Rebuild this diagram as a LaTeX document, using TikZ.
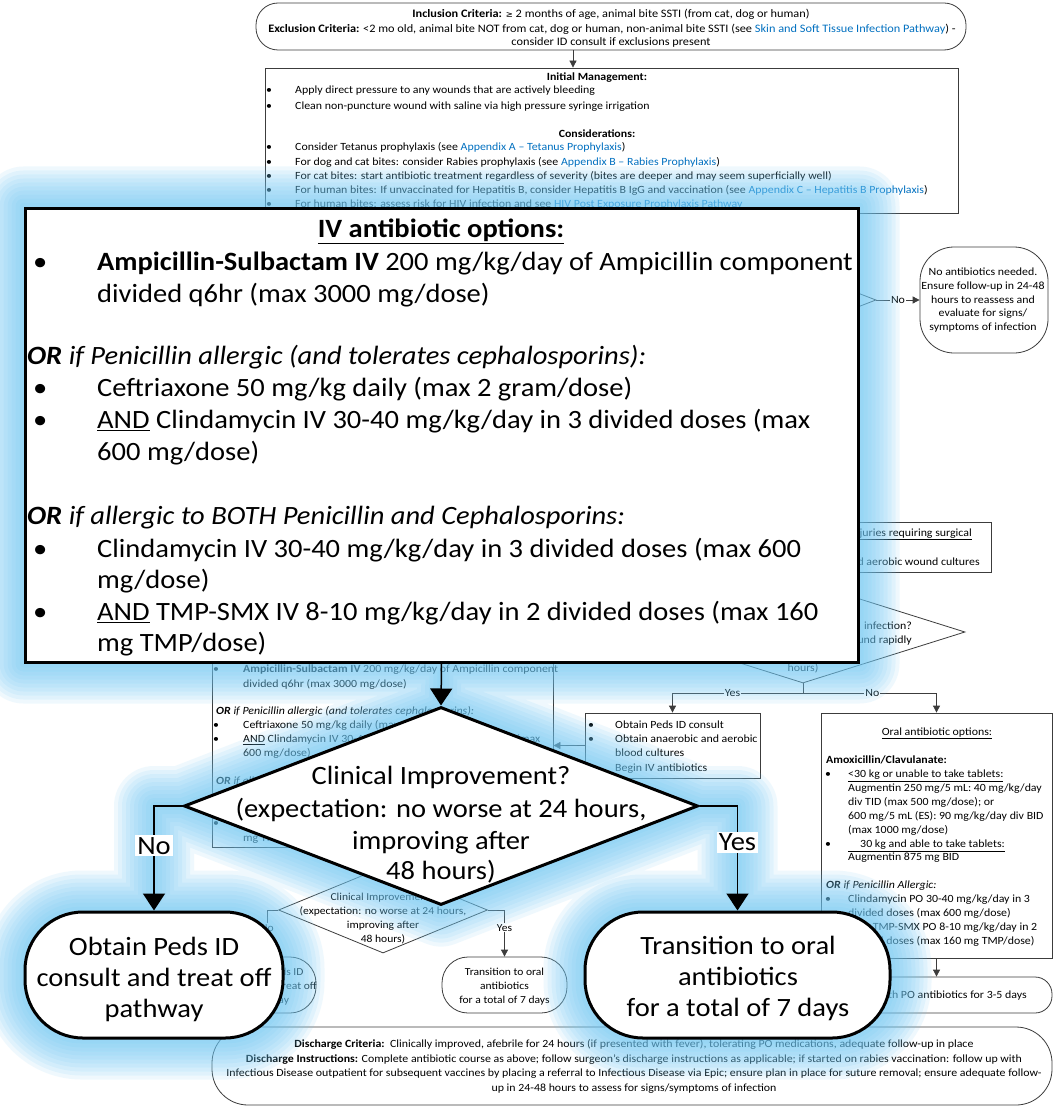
\documentclass[tikz,border=0pt]{standalone}
\usepackage{fontspec}
\setmainfont{Carlito}[FakeStretch=1.08]
\newfontfamily\symfont{DejaVu Sans}
\usetikzlibrary{shapes.geometric,arrows.meta,calc}
\pgfdeclarelayer{flow}
\pgfdeclarelayer{halo}
\pgfsetlayers{flow,halo,main}
\definecolor{linkblue}{RGB}{0,112,192}
\definecolor{haloblue}{RGB}{110,200,245}
\definecolor{edge}{RGB}{60,60,60}
\newcommand\lk[1]{\textcolor{linkblue}{#1}}
\newcommand\bul[1]{\makebox[#1][l]{\textbullet}}
\newcommand\gesym{{\symfont\fontsize{8.5}{10}\selectfont ≥}}
\begin{document}
\begin{tikzpicture}[x=1pt,y=-1pt,
  sm/.style={font=\fontsize{11}{13}\selectfont, inner sep=0pt, text=black},
  xs/.style={font=\fontsize{10.7}{12}\selectfont, inner sep=0pt, text=black},
  ent/.style={font=\fontsize{11.4}{13}\selectfont, inner sep=0pt, text=black},
  bgbox/.style={draw=edge, line width=0.8pt, fill=white, inner sep=0pt},
  bgdia/.style={diamond, draw=edge, line width=0.8pt, fill=white, inner sep=0pt},
  lbig/.style={font=\fontsize{26.4}{31}\selectfont, inner sep=0pt, text=black},
  heavy/.style={draw=black, line width=3pt, fill=white, inner sep=0pt},
  sarrow/.style={draw=edge, line width=0.8pt, -{Triangle[length=7pt,width=7pt]}},
  barrow/.style={draw=black, line width=1.5pt, -{Triangle[length=17pt,width=22pt]}},
  slabel/.style={sm, fill=white, inner sep=1pt},
  blabel/.style={lbig, fill=white, inner sep=2pt},
]
\useasboundingbox (0,0) rectangle (1063,1110);

% ---------------- underlying pathway (small scale) ----------------
\begin{pgfonlayer}{flow}
\fill[white] (0,0) rectangle (1063,1110);

% entry criteria
\node[bgbox, rounded corners=22pt, minimum width=710pt, minimum height=47pt] (entry) at (611,26.5) {};
\node[ent, anchor=base] (en1) at (611,17.5) {\textbf{Inclusion Criteria:} \gesym\ 2 months of age, animal bite SSTI (from cat, dog or human)};
\node[ent, anchor=base] (en2) at (612,32.5) {\textbf{Exclusion Criteria:} <2 mo old, animal bite NOT from cat, dog or human, non-animal bite SSTI (see \lk{Skin and Soft Tissue Infection Pathway}) -};
\node[ent, anchor=base] (en3) at (611,45.5) {consider ID consult if exclusions present};

% initial management
\node[bgbox, minimum width=693pt, minimum height=145pt] (init) at (611.5,140.5) {};
\coordinate (entryout) at (573,50);
\draw[sarrow] (entryout) -- (entryout |- init.north);
\node[sm, anchor=base] (im0) at (597,80.5) {\textbf{Initial Management:}};
\node[sm, anchor=base west] (im1) at (266,93.5) {\bul{29pt}Apply direct pressure to any wounds that are actively bleeding};
\node[sm, anchor=base west] (im2) at (266,109.5) {\bul{29pt}Clean non-puncture wound with saline via high pressure syringe irrigation};
\node[sm, anchor=base] (co0) at (597,137.5) {\textbf{Considerations:}};
\node[sm, anchor=base west] (co1) at (266,150.5) {\bul{29pt}Consider Tetanus prophylaxis (see \lk{Appendix A – Tetanus Prophylaxis})};
\node[sm, anchor=base west] (co2) at (266,165.5) {\bul{29pt}For dog and cat bites: consider Rabies prophylaxis (see \lk{Appendix B – Rabies Prophylaxis})};
\node[sm, anchor=base west] (co3) at (266,179.5) {\bul{29pt}For cat bites: start antibiotic treatment regardless of severity (bites are deeper and may seem superficially well)};
\node[sm, anchor=base west] (co4) at (266,193.5) {\bul{29pt}For human bites: If unvaccinated for Hepatitis B, consider Hepatitis B IgG and vaccination (see \lk{Appendix C – Hepatitis B Prophylaxis})};
\node[sm, anchor=base west] (co5) at (266,207.5) {\bul{29pt}For human bites: assess risk for HIV infection and see \lk{HIV Post Exposure Prophylaxis Pathway}};

% first decision and its "No" exit
\node[bgdia, minimum width=352pt, minimum height=136pt] (d1) at (700,300) {};
\node[bgbox, rounded corners=34pt, minimum width=128pt, minimum height=106pt] (noab) at (984,300) {};
\draw[sarrow] (d1.east) -- (noab.west) node[slabel, midway] (nolab1) {No};
\node[sm, anchor=base] (na1) at (983,275.5) {No antibiotics needed.};
\node[sm, anchor=base] (na2) at (983,289.5) {Ensure follow-up in 24-48};
\node[sm, anchor=base] (na3) at (983,303.5) {hours to reassess and};
\node[sm, anchor=base] (na4) at (983,316.5) {evaluate for signs/};
\node[sm, anchor=base] (na5) at (983,330.5) {symptoms of infection};

% surgical injuries box
\node[bgbox, minimum width=291pt, minimum height=50pt] (surg) at (845.5,547) {};
\node[sm, anchor=base east] (sg1) at (972,536) {\underline{Injuries requiring surgical}};
\node[sm, anchor=base east] (sg2) at (980,565.5) {Obtain anaerobic and aerobic wound cultures};

% systemic infection decision
\node[bgdia, minimum width=324pt, minimum height=102pt] (d2) at (803,632) {};
\node[sm, anchor=base east] (dt1) at (912,629.5) {infection?};
\node[sm, anchor=base east] (dt2) at (912,643.5) {wound rapidly};
\node[sm, anchor=base] (dt3) at (803,671.5) {hours)};
\coordinate (split) at (803,693);

% peds ID consult box
\node[bgbox, minimum width=175pt, minimum height=65pt] (peds) at (672.5,745.5) {};
\node[sm, anchor=base west] (pd1) at (588,728.5) {\bul{27pt}Obtain Peds ID consult};
\node[sm, anchor=base west] (pd2) at (588,742.5) {\bul{27pt}Obtain anaerobic and aerobic};
\node[sm, anchor=base west] (pd3) at (615,756.5) {blood cultures};
\node[sm, anchor=base west] (pd4) at (588,771.5) {\bul{27pt}Begin IV antibiotics};

% oral antibiotic box
\node[bgbox, minimum width=231pt, minimum height=245pt] (oral) at (936.5,835.5) {};
\draw[edge, line width=0.8pt] (d2.south) -- (split);
\draw[sarrow] (split) -| (peds.north) node[slabel, pos=0.27] (yes2) {Yes};
\draw[sarrow] (split) -| (oral.north) node[slabel, pos=0.26] (no2) {No};
\node[sm, anchor=base] (or0) at (937,735.5) {\underline{Oral antibiotic options:}};
\node[sm, anchor=base west] (or1) at (826,763.5) {\textbf{Amoxicillin/Clavulanate:}};
\node[sm, anchor=base west] (or2) at (825,777.5) {\bul{23pt}\underline{<30 kg or unable to take tablets:}};
\node[sm, anchor=base west] (or3) at (848,791.5) {Augmentin 250 mg/5 mL: 40 mg/kg/day};
\node[sm, anchor=base west] (or4) at (848,805.5) {div TID (max 500 mg/dose); or};
\node[sm, anchor=base west] (or5) at (848,819.5) {600 mg/5 mL (ES): 90 mg/kg/day div BID};
\node[sm, anchor=base west] (or6) at (848,833.5) {(max 1000 mg/dose)};
\node[sm, anchor=base west] (or7) at (825,847.5) {\bul{23pt}\underline{\hphantom{00}30 kg and able to take tablets:}};
\node[sm, anchor=base west] (or8) at (848,860.5) {Augmentin 875 mg BID};
\node[sm, anchor=base west] (or9) at (826,888.5) {\textbf{\textit{OR}} \textit{if Penicillin Allergic:}};
\node[sm, anchor=base west] (or10) at (825,902.5) {\bul{23pt}Clindamycin PO 30-40 mg/kg/day in 3};
\node[sm, anchor=base west] (or11) at (848,916.5) {divided doses (max 600 mg/dose)};
\node[sm, anchor=base west] (or12) at (825,930.5) {\bul{23pt}\underline{AND} TMP-SMX PO 8-10 mg/kg/day in 2};
\node[sm, anchor=base west] (or13) at (848,944.5) {divided doses (max 160 mg TMP/dose)};

% continue oral terminal
\node[bgbox, rounded corners=17pt, minimum width=212pt, minimum height=36pt] (cont) at (946,995) {};
\draw[sarrow] (oral.south) -- (oral.south |- cont.north);
\node[sm, anchor=base east] (ct1) at (1027,998.5) {Continue with PO antibiotics for 3-5 days};

% IV antibiotic box
\node[bgbox, minimum width=341pt, minimum height=207pt] (ivs) at (382.5,743.5) {};
\draw[sarrow] (peds.west) -- (peds.west -| ivs.east);
\node[sm, anchor=base west] (iv1) at (213,672.5) {\bul{30pt}\textbf{Ampicillin-Sulbactam IV} 200 mg/kg/day of Ampicillin component};
\node[sm, anchor=base west] (iv2) at (243,687.5) {divided q6hr (max 3000 mg/dose)};
\node[sm, anchor=base west] (iv3) at (216,714.5) {\textbf{\textit{OR}} \textit{if Penicillin allergic (and tolerates cephalosporins):}};
\node[sm, anchor=base west] (iv4) at (213,728.5) {\bul{30pt}Ceftriaxone 50 mg/kg daily (max 2 gram/dose)};
\node[sm, anchor=base west] (iv5) at (213,742.5) {\bul{30pt}\underline{AND} Clindamycin IV 30-40 mg/kg/day in 3 divided doses (max};
\node[sm, anchor=base west] (iv6) at (243,756.5) {600 mg/dose)};
\node[sm, anchor=base west] (iv7) at (216,784.5) {\textbf{\textit{OR}} \textit{if allergic to BOTH Penicillin and Cephalosporins:}};
\node[sm, anchor=base west] (iv8) at (213,798.5) {\bul{30pt}Clindamycin IV 30-40 mg/kg/day in 3 divided doses (max 600};
\node[sm, anchor=base west] (iv9) at (243,812.5) {mg/dose)};
\node[sm, anchor=base west] (iv10) at (213,826.5) {\bul{30pt}\underline{AND} TMP-SMX IV 8-10 mg/kg/day in 2 divided doses (max 160};
\node[sm, anchor=base west] (iv11) at (243,841.5) {mg TMP/dose)};

% clinical improvement decision (small)
\node[bgdia, minimum width=209pt, minimum height=86pt] (d3) at (383,910) {};
\node[xs, anchor=base] (c1) at (383,900.5) {Clinical Improvement?};
\node[xs, anchor=base] (c2) at (383,914.5) {(expectation: no worse at 24 hours,};
\node[xs, anchor=base] (c3) at (383,928.5) {improving after};
\node[xs, anchor=base] (c4) at (383,942.5) {48 hours)};
\node[bgbox, rounded corners=26pt, minimum width=98pt, minimum height=56pt] (slt) at (267,985) {};
\node[bgbox, rounded corners=26pt, minimum width=125pt, minimum height=56pt] (srt) at (504.5,985) {};
\draw[sarrow] (d3.west) -| (slt.north) node[xs, fill=white, inner sep=1pt, pos=0.69] (no3) {No};
\draw[sarrow] (d3.east) -| (srt.north) node[xs, fill=white, inner sep=1pt, pos=0.69] (yes3) {Yes};
\node[xs, anchor=base] (s1) at (269,975.5) {Obtain Peds ID};
\node[xs, anchor=base] (s2) at (269,989.5) {consult and treat off};
\node[xs, anchor=base] (s3) at (269,1003.5) {pathway};
\node[xs, anchor=base] (r1) at (504.5,975.5) {Transition to oral};
\node[xs, anchor=base] (r2) at (504.5,989.5) {antibiotics};
\node[xs, anchor=base] (r3) at (504.5,1003.5) {for a total of 7 days};

% discharge terminal
\node[bgbox, rounded corners=36pt, minimum width=840pt, minimum height=78pt] (dis) at (632,1066) {};
\node[sm, anchor=base] (ds1) at (634,1047.5) {\textbf{Discharge Criteria:}\ \ Clinically improved, afebrile for 24 hours (if presented with fever), tolerating PO medications, adequate follow-up in place};
\node[sm, anchor=base] (ds2) at (634,1062.5) {\textbf{Discharge Instructions:} Complete antibiotic course as above; follow surgeon’s discharge instructions as applicable; if started on rabies vaccination: follow up with};
\node[sm, anchor=base] (ds3) at (634,1076.5) {Infectious Disease outpatient for subsequent vaccines by placing a referral to Infectious Disease via Epic; ensure plan in place for suture removal; ensure adequate follow-};
\node[sm, anchor=base] (ds4) at (634,1091.5) {up in 24-48 hours to assess for signs/symptoms of infection};
\end{pgfonlayer}

% ---------------- enlarged IV step (large scale) ----------------
\node[heavy, minimum width=833pt, minimum height=454pt] (bigbox) at (441.5,435) {};
\node[lbig, anchor=base] (bt0) at (441,237.5) {\textbf{\underline{IV antibiotic options:}}};
\node[lbig, anchor=base west] (bt1) at (33,270.5) {\bul{64pt}\textbf{Ampicillin-Sulbactam IV} 200 mg/kg/day of Ampicillin component};
\node[lbig, anchor=base west] (bt2) at (97,302.5) {divided q6hr (max 3000 mg/dose)};
\node[lbig, anchor=base west] (bt3) at (27,364.5) {\textbf{\textit{OR}} \textit{if Penicillin allergic (and tolerates cephalosporins):}};
\node[lbig, anchor=base west] (bt4) at (33,396.5) {\bul{64pt}Ceftriaxone 50 mg/kg daily (max 2 gram/dose)};
\node[lbig, anchor=base west] (bt5) at (33,428.5) {\bul{64pt}\underline{AND} Clindamycin IV 30-40 mg/kg/day in 3 divided doses (max};
\node[lbig, anchor=base west] (bt6) at (97,460.5) {600 mg/dose)};
\node[lbig, anchor=base west] (bt7) at (27,524.5) {\textbf{\textit{OR}} \textit{if allergic to BOTH Penicillin and Cephalosporins:}};
\node[lbig, anchor=base west] (bt8) at (33,557.5) {\bul{64pt}Clindamycin IV 30-40 mg/kg/day in 3 divided doses (max 600};
\node[lbig, anchor=base west] (bt9) at (97,588.5) {mg/dose)};
\node[lbig, anchor=base west] (bt10) at (33,620.5) {\bul{64pt}\underline{AND} TMP-SMX IV 8-10 mg/kg/day in 2 divided doses (max 160};
\node[lbig, anchor=base west] (bt11) at (97,651.5) {mg TMP/dose)};

\node[heavy, diamond, minimum width=514pt, minimum height=198pt] (dia) at (441,806) {};
\node[lbig, anchor=base] (q1) at (441,784.5) {Clinical Improvement?};
\node[lbig, anchor=base] (q2) at (441,817.5) {(expectation: no worse at 24 hours,};
\node[lbig, anchor=base] (q3) at (441,849.5) {improving after};
\node[lbig, anchor=base] (q4) at (441,879.5) {48 hours)};

\node[heavy, rounded corners=58pt, minimum width=258pt, minimum height=126pt] (lt) at (154,975) {};
\node[lbig, anchor=base] (l1) at (154,955.5) {Obtain Peds ID};
\node[lbig, anchor=base] (l2) at (154,986.5) {consult and treat off};
\node[lbig, anchor=base] (l3) at (154,1017.5) {pathway};
\node[heavy, rounded corners=58pt, minimum width=305pt, minimum height=126pt] (rt) at (737.5,975) {};
\node[lbig, anchor=base] (r4) at (738,954.5) {Transition to oral};
\node[lbig, anchor=base] (r5) at (738,985.5) {antibiotics};
\node[lbig, anchor=base] (r6) at (738,1016.5) {for a total of 7 days};

\draw[barrow] (bigbox.south) -- (dia.north);
\draw[barrow] (dia.west) -| (lt.north) node[blabel, pos=0.69] (nobig) {No};
\draw[barrow] (dia.east) -| (rt.north) node[blabel, pos=0.675] (yesbig) {Yes};

% soft blue halo behind the enlarged step
\begin{pgfonlayer}{halo}
\foreach \k in {1,...,10}{
  \draw[haloblue, opacity=0.11, line width=\k*8pt, line join=round, line cap=round]
    (bigbox.north west) rectangle (bigbox.south east)
    (dia.north) -- (dia.east) -- (dia.south) -- (dia.west) -- cycle
    (lt.north west) [rounded corners=58pt] rectangle (lt.south east) [sharp corners]
    (rt.north west) [rounded corners=58pt] rectangle (rt.south east) [sharp corners]
    (bigbox.south) -- (dia.north)
    (dia.west) -| (lt.north)
    (dia.east) -| (rt.north);
}
\end{pgfonlayer}
\end{tikzpicture}
\end{document}
